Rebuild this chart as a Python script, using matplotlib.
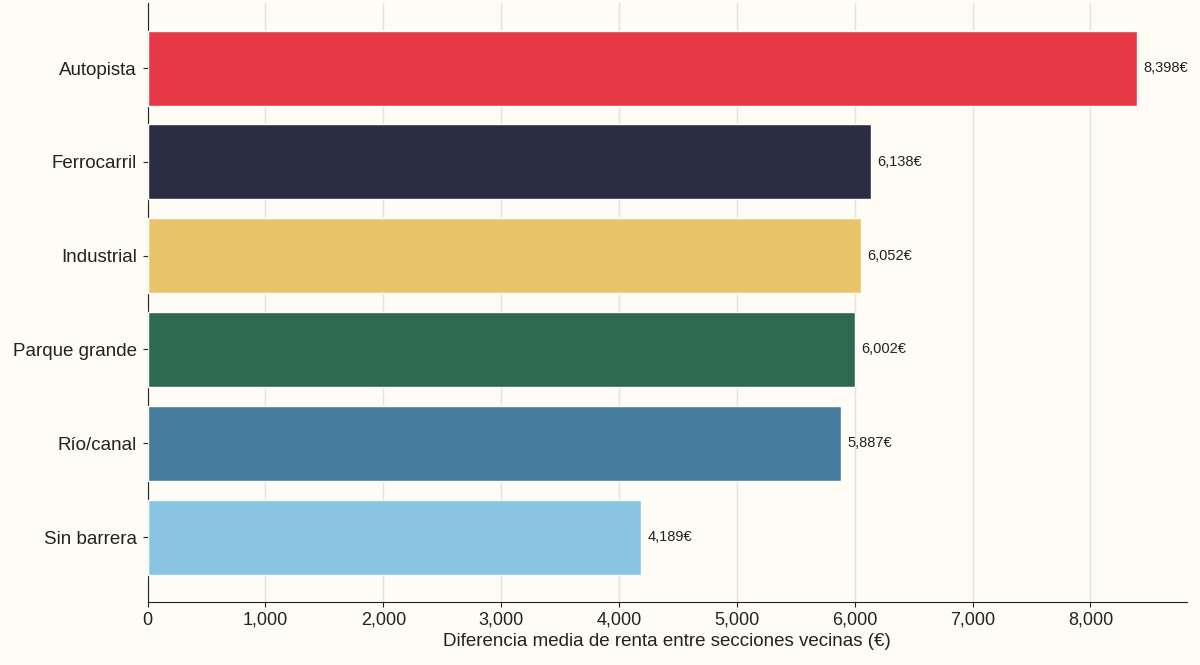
import numpy as np
import matplotlib
matplotlib.use("Agg")
import matplotlib.pyplot as plt
from matplotlib.ticker import FuncFormatter

plt.rcParams['font.family'] = ['Liberation Sans', 'DejaVu Sans']

# Datos
categorias = ["Autopista", "Ferrocarril", "Industrial", "Parque grande", "Río/canal", "Sin barrera"]
diferencias = [8398, 6138, 6052, 6002, 5887, 4189]
colores = ["#e63946", "#2b2d42", "#e9c46a", "#2d6a4f", "#457b9d", "#8ac4e3"]

fondo = "#fffcf5"
fig = plt.figure(figsize=(12, 6.65), dpi=100, facecolor=fondo)
ax = fig.add_axes([0.123, 0.095, 0.866, 0.9])
ax.set_facecolor(fondo)

y = np.arange(len(categorias))
ax.barh(y, diferencias, height=0.8, color=colores, edgecolor="white", linewidth=1, zorder=3)

for yi, v in zip(y, diferencias):
    ax.text(v + 55, yi, f"{v:,}€", va="center", ha="left", fontsize=10.5, color="#222222")

ax.set_yticks(y)
ax.set_yticklabels(categorias, fontsize=13.5, color="#222222")
ax.invert_yaxis()
ax.set_xlim(0, max(diferencias) * 1.05)
ax.xaxis.set_major_formatter(FuncFormatter(lambda x, p: f"{int(x):,}"))
ax.tick_params(axis="x", labelsize=13, colors="#222222")
ax.tick_params(axis="y", colors="#222222", pad=4)
ax.set_xlabel("Diferencia media de renta entre secciones vecinas (€)", fontsize=13.5,
              color="#222222", labelpad=3)

ax.grid(axis="x", color="#e5e2dc", linewidth=1, zorder=0)
ax.set_axisbelow(True)
for s in ["top", "right"]:
    ax.spines[s].set_visible(False)
for s in ["left", "bottom"]:
    ax.spines[s].set_color("#222222")
    ax.spines[s].set_zorder(2)

fig.savefig("out.png", dpi=100, facecolor=fondo)
